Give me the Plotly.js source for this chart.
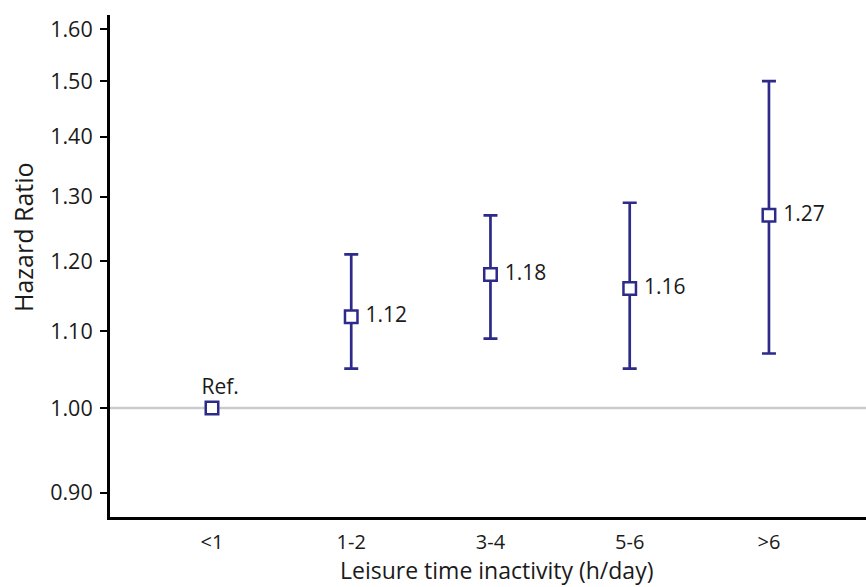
<!DOCTYPE html>
<html>
<head>
<meta charset="utf-8">
<script src="https://cdn.plot.ly/plotly-3.0.1.min.js"></script>
<style>html,body{margin:0;padding:0;background:#fff;}#chart{width:866px;height:587px;}</style>
</head>
<body>
<div id="chart"></div>
<script>
// Data
const categories = ['<1', '1-2', '3-4', '5-6', '>6'];
const hazardRatio = [1.00, 1.12, 1.18, 1.16, 1.27];
const ciLower = [null, 1.05, 1.09, 1.05, 1.07];
const ciUpper = [null, 1.21, 1.27, 1.29, 1.50];
const pointLabels = ['Ref.', '1.12', '1.18', '1.16', '1.27'];
const yTickVals = [0.90, 1.00, 1.10, 1.20, 1.30, 1.40, 1.50, 1.60];
const yTickText = ['0.90', '1.00', '1.10', '1.20', '1.30', '1.40', '1.50', '1.60'];

const indigo = '#2d2a89';
const FONT = 'Open Sans, Noto Sans, sans-serif';
const NB = '\u00a0';

const errPlus = hazardRatio.map((v, i) => ciUpper[i] == null ? null : ciUpper[i] - v);
const errMinus = hazardRatio.map((v, i) => ciLower[i] == null ? null : v - ciLower[i]);

const trace = {
  type: 'scatter',
  mode: 'markers+text',
  x: categories,
  y: hazardRatio,
  text: pointLabels,
  texttemplate: pointLabels.map((t, i) => (i === 0 ? NB + NB + NB : NB) + '%{text}'),
  textposition: ['top center', 'middle right', 'middle right', 'middle right', 'middle right'],
  textfont: {family: FONT, size: 21, color: '#1a1a1a'},
  marker: {symbol: 'square', size: 12.5, color: '#ffffff', line: {color: indigo, width: 2.5}},
  error_y: {type: 'data', symmetric: false, array: errPlus, arrayminus: errMinus,
            color: indigo, thickness: 2.7, width: 7},
  cliponaxis: false,
  hoverinfo: 'skip'
};

const layout = {
  width: 866, height: 587,
  margin: {l: 110, r: 0, t: 15, b: 70},
  paper_bgcolor: '#ffffff', plot_bgcolor: '#ffffff',
  showlegend: false,
  font: {family: FONT, color: '#1a1a1a'},
  xaxis: {
    type: 'category',
    range: [-0.7325, 4.697],
    showgrid: false, zeroline: false,
    showline: true, linecolor: '#000000', linewidth: 3,
    ticks: '', tickfont: {family: FONT, size: 20, color: '#1a1a1a'},
    ticklabelstandoff: 5
  },
  yaxis: {
    type: 'log',
    range: [-0.05872, 0.21176],
    tickvals: yTickVals, ticktext: yTickText,
    showgrid: false, zeroline: false,
    showline: true, linecolor: '#000000', linewidth: 3,
    ticks: 'outside', ticklen: 7, tickwidth: 2, tickcolor: '#000000',
    tickfont: {family: FONT, size: 21.5, color: '#1a1a1a'},
    ticklabelstandoff: 3
  },
  shapes: [{
    type: 'line', xref: 'paper', yref: 'y', x0: 0, x1: 1, y0: 1, y1: 1,
    line: {color: '#cccccc', width: 2.5}, layer: 'below'
  }],
  annotations: [
    {text: 'Leisure time inactivity (h/day)', xref: 'paper', yref: 'paper',
     x: 0.5106, y: -0.1394, xanchor: 'center', yanchor: 'bottom', showarrow: false,
     borderpad: 0,
     font: {family: FONT, size: 23, color: '#1a1a1a'}},
    {text: 'Hazard Ratio', xref: 'paper', yref: 'paper', textangle: -90,
     x: -0.1151, y: 0.5578, xanchor: 'center', yanchor: 'middle', showarrow: false,
     font: {family: FONT, size: 25, color: '#1a1a1a'}}
  ]
};

Plotly.newPlot('chart', [trace], layout, {displayModeBar: false, staticPlot: true});
</script>
</body>
</html>
